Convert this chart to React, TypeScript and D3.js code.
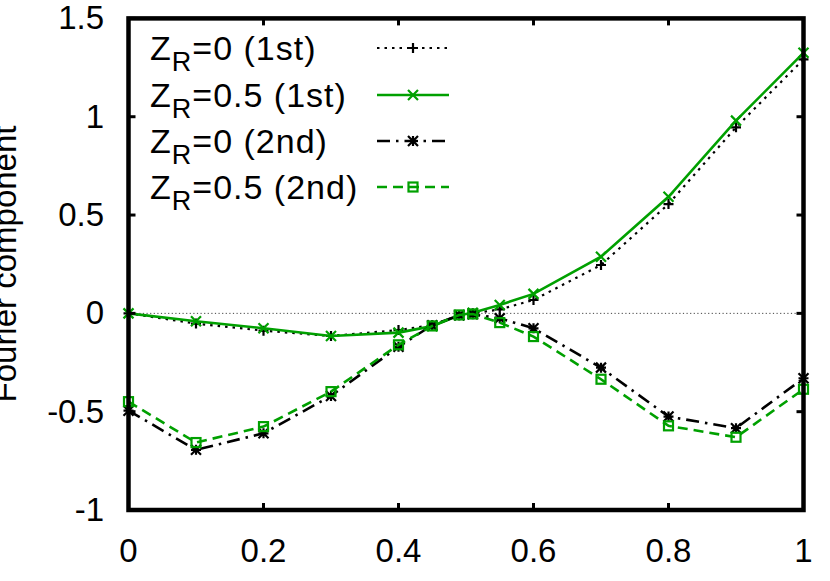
import React from "react";
import * as d3 from "d3";

const xs = [0, 0.1, 0.2, 0.3, 0.4, 0.45, 0.49, 0.51, 0.55, 0.6, 0.7, 0.8, 0.9, 1.0];
const zr0First = [0, -0.052, -0.088, -0.115, -0.085, -0.06, -0.01, 0.0, 0.02, 0.068, 0.246, 0.556, 0.946, 1.292];
const zr05First = [0, -0.04, -0.076, -0.115, -0.098, -0.065, -0.01, 0.003, 0.043, 0.099, 0.288, 0.593, 0.98, 1.325];
const zr0Second = [-0.495, -0.694, -0.61, -0.42, -0.17, -0.06, -0.01, -0.005, -0.025, -0.076, -0.276, -0.525, -0.584, -0.33];
const zr05Second = [-0.449, -0.657, -0.576, -0.398, -0.16, -0.064, -0.008, -0.003, -0.047, -0.118, -0.335, -0.572, -0.63, -0.386];

const xTicks = [0, 0.2, 0.4, 0.6, 0.8, 1];
const xTickLabels = ["0", "0.2", "0.4", "0.6", "0.8", "1"];
const yTicks = [-1, -0.5, 0, 0.5, 1, 1.5];
const yTickLabels = ["-1", "-0.5", "0", "0.5", "1", "1.5"];
const yLabel = "Fourier component";

const seriesNames = ["=0 (1st)", "=0.5 (1st)", "=0 (2nd)", "=0.5 (2nd)"];

const GREEN = "#00a000";
const W = 830, H = 581;
const L = 128.5, R = 803.5, T = 18.4, B = 510;

export default function App() {
  const x = d3.scaleLinear().domain([0, 1]).range([L, R]);
  const y = d3.scaleLinear().domain([-1, 1.5]).range([B, T]);
  const line = d3.line<[number, number]>().x(d => x(d[0])).y(d => y(d[1]));

  const series = [
    { vals: zr0First, color: "#000", dash: "2.5,5", width: 2.2, marker: "plus" },
    { vals: zr05First, color: GREEN, dash: "", width: 2.6, marker: "x" },
    { vals: zr0Second, color: "#000", dash: "13,6,2.5,6", width: 2.6, marker: "star" },
    { vals: zr05Second, color: GREEN, dash: "10,6", width: 2.6, marker: "square" },
  ];

  const marker = (type: string, cx: number, cy: number, color: string, key: string) => {
    const s = 5;
    if (type === "plus")
      return <path key={key} d={`M${cx - s},${cy}H${cx + s}M${cx},${cy - s}V${cy + s}`} stroke={color} strokeWidth={2.2} fill="none" />;
    if (type === "x")
      return <path key={key} d={`M${cx - s},${cy - s}L${cx + s},${cy + s}M${cx - s},${cy + s}L${cx + s},${cy - s}`} stroke={color} strokeWidth={2.2} fill="none" />;
    if (type === "star")
      return <path key={key} d={`M${cx - s},${cy - s}L${cx + s},${cy + s}M${cx - s},${cy + s}L${cx + s},${cy - s}M${cx - s},${cy}H${cx + s}M${cx},${cy - s}V${cy + s}`} stroke={color} strokeWidth={2.2} fill="none" />;
    return <rect key={key} x={cx - 4.5} y={cy - 4.5} width={9} height={9} stroke={color} strokeWidth={2.2} fill="none" />;
  };

  const legendRowY = [48, 95, 141, 187];
  const font = "'Liberation Sans', Arial, Helvetica, sans-serif";

  return (
    <svg width={W} height={H} style={{ position: "absolute", left: 0, top: 0 }} fontFamily={font}>
      <rect width={W} height={H} fill="#fff" />
      <line x1={x(0)} x2={x(1)} y1={y(0)} y2={y(0)} stroke="#444" strokeWidth={1} strokeDasharray="1.2,2.4" />
      {series.map((s, i) => (
        <g key={i}>
          <path d={line(xs.map((v, j) => [v, s.vals[j]]) as [number, number][]) || ""} fill="none" stroke={s.color} strokeWidth={s.width} strokeDasharray={s.dash || undefined} />
          {xs.map((v, j) => marker(s.marker, x(v), y(s.vals[j]), s.color, `m${i}-${j}`))}
        </g>
      ))}
      {seriesNames.map((name, i) => (
        <g key={`lg${i}`}>
          <text x={150} y={legendRowY[i] + 12} fontSize={34} letterSpacing={1} fill="#000">
            Z<tspan fontSize={27} dy={11}>R</tspan><tspan dy={-11}>{name}</tspan>
          </text>
          <line x1={377} x2={449} y1={legendRowY[i]} y2={legendRowY[i]} stroke={series[i].color} strokeWidth={series[i].width} strokeDasharray={series[i].dash || undefined} />
          {marker(series[i].marker, 413, legendRowY[i], series[i].color, `lm${i}`)}
        </g>
      ))}
      <rect x={L} y={T} width={R - L} height={B - T} fill="none" stroke="#000" strokeWidth={4.5} />
      {xTicks.map((t, i) => (
        <g key={`xt${i}`}>
          <line x1={x(t)} x2={x(t)} y1={B} y2={B - 7} stroke="#000" strokeWidth={3} />
          <line x1={x(t)} x2={x(t)} y1={T} y2={T + 7} stroke="#000" strokeWidth={3} />
          <text x={x(t)} y={562} fontSize={33} textAnchor="middle" fill="#000">{xTickLabels[i]}</text>
        </g>
      ))}
      {yTicks.map((t, i) => (
        <g key={`yt${i}`}>
          <line x1={L} x2={L + 7} y1={y(t)} y2={y(t)} stroke="#000" strokeWidth={3} />
          <line x1={R} x2={R - 7} y1={y(t)} y2={y(t)} stroke="#000" strokeWidth={3} />
          <text x={104} y={y(t) + 11} fontSize={33} textAnchor="end" fill="#000">{yTickLabels[i]}</text>
        </g>
      ))}
      <text transform={`translate(16,264) rotate(-90)`} fontSize={33} textAnchor="middle" fill="#000">{yLabel}</text>
    </svg>
  );
}
